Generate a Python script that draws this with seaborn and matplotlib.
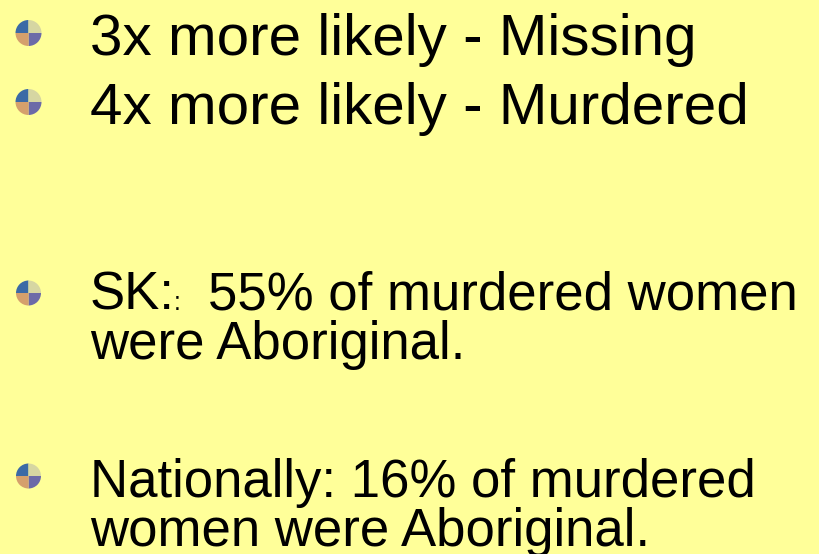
import matplotlib
matplotlib.use("Agg")
import matplotlib.pyplot as plt
from matplotlib.patches import Wedge
import seaborn as sns

# ── Slide content ─────────────────────────────────────────────────────────────
bullet_lines = [
    ["3x more likely - Missing"],
    ["4x more likely - Murdered"],
    ["SK:", "55% of murdered women", "were Aboriginal."],
    ["Nationally: 16% of murdered", "women were Aboriginal."],
]
font_sizes = [42, 42, 38, 38]
# bullet quadrant colours; y axis is flipped, so angles run clockwise on screen
quadrant_colors = {"BR": "#6c6aa8", "BL": "#d5a06c", "TL": "#3b6aa6", "TR": "#d6d6a2"}

# ── Layout (pixels) ───────────────────────────────────────────────────────────
W, H = 819, 554
bg = "#ffff99"
text_x = 90
bullet_x = 28.5
bullet_r = [13, 13, 12.5, 12.5]
baselines = [55, 124, 310, 497]
bullet_y = [33, 102, 293, 476]
line_step = 49

sns.set_theme(style="white")
plt.rcParams["font.family"] = ["Liberation Sans", "DejaVu Sans"]

fig = plt.figure(figsize=(W / 100, H / 100), dpi=100)
fig.patch.set_facecolor(bg)
ax = fig.add_axes([0, 0, 1, 1])
ax.set_facecolor(bg)
ax.set_xlim(0, W)
ax.set_ylim(H, 0)
ax.axis("off")


def draw_bullet(cx, cy, r):
    for i, q in enumerate(["BR", "BL", "TL", "TR"]):
        ax.add_patch(Wedge((cx, cy), r, 90 * i, 90 * (i + 1),
                           color=quadrant_colors[q], lw=0))


for item, base, by, r, fs in zip(bullet_lines, baselines, bullet_y, bullet_r, font_sizes):
    draw_bullet(bullet_x, by, r)
    if item[0] == "SK:":
        ax.text(text_x, base, "SK:", fontsize=fs, va="baseline", color="black")
        ax.text(text_x + 84, base, ":", fontsize=18, va="baseline", color="black")
        ax.text(text_x + 118, base, item[1], fontsize=fs, va="baseline", color="black")
        rest = item[2:]
    else:
        ax.text(text_x, base, item[0], fontsize=fs, va="baseline", color="black")
        rest = item[1:]
    for k, line in enumerate(rest):
        ax.text(text_x, base + line_step * (k + 1), line, fontsize=fs,
                va="baseline", color="black")

fig.savefig("out.png", dpi=100, facecolor=bg)
